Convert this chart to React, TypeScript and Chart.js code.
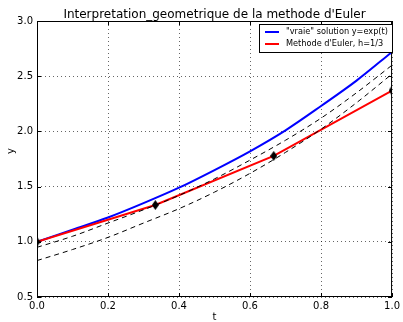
import React, { useEffect, useRef } from "react";
import { Chart, registerables } from "chart.js";

Chart.register(...registerables);

const titleText = "Interpretation_geometrique de la methode d'Euler";
const xLabel = "t";
const yLabel = "y";
const exactLabel = '"vraie" solution y=exp(t)';
const eulerLabel = "Methode d'Euler, h=1/3";

const tValues = [0, 0.1, 0.2, 0.3, 0.4, 0.5, 0.6, 0.7, 0.8, 0.9, 1.0];
const exactY = [1.0, 1.11, 1.22, 1.35, 1.49, 1.65, 1.82, 2.01, 2.23, 2.46, 2.72];
const dashedA = [0.95, 1.05, 1.17, 1.29, 1.42, 1.57, 1.74, 1.92, 2.12, 2.35, 2.6];
const dashedB = [0.83, 0.93, 1.04, 1.17, 1.3, 1.45, 1.62, 1.81, 2.02, 2.26, 2.52];
const eulerT = [0, 0.3333, 0.6667, 1.0];
const eulerY = [1.0, 1.3333, 1.7778, 2.3704];
const xTicks = [0, 0.2, 0.4, 0.6, 0.8, 1.0];
const yTicks = [0.5, 1.0, 1.5, 2.0, 2.5, 3.0];

const FONT = "'DejaVu Sans', sans-serif";

const pairs = (xs: number[], ys: number[]) => xs.map((x, i) => ({ x, y: ys[i] }));

function makeThinDiamond(): HTMLCanvasElement {
  const c = document.createElement("canvas");
  c.width = 7;
  c.height = 10;
  const g = c.getContext("2d")!;
  g.fillStyle = "#000";
  g.beginPath();
  g.moveTo(3.5, 0);
  g.lineTo(7, 5);
  g.lineTo(3.5, 10);
  g.lineTo(0, 5);
  g.closePath();
  g.fill();
  return c;
}

const decorPlugin = {
  id: "decor",
  afterDraw(chart: any) {
    const { ctx, chartArea: a, scales } = chart;
    const xs = scales.x;
    const ys = scales.y;
    ctx.save();
    ctx.strokeStyle = "#000";
    ctx.lineWidth = 1;
    ctx.setLineDash([]);
    ctx.strokeRect(a.left + 0.5, a.top + 0.5, a.right - a.left - 1, a.bottom - a.top - 1);
    const tl = 4;
    ctx.beginPath();
    xTicks.forEach((v) => {
      const px = Math.round(xs.getPixelForValue(v)) + 0.5;
      ctx.moveTo(px, a.bottom);
      ctx.lineTo(px, a.bottom - tl);
      ctx.moveTo(px, a.top);
      ctx.lineTo(px, a.top + tl);
    });
    yTicks.forEach((v) => {
      const py = Math.round(ys.getPixelForValue(v)) + 0.5;
      ctx.moveTo(a.left, py);
      ctx.lineTo(a.left + tl, py);
      ctx.moveTo(a.right, py);
      ctx.lineTo(a.right - tl, py);
    });
    ctx.stroke();

    ctx.fillStyle = "#000";
    ctx.font = `12px ${FONT}`;
    ctx.textAlign = "center";
    ctx.textBaseline = "alphabetic";
    ctx.fillText(titleText, (a.left + a.right) / 2, 18);
    ctx.font = `10px ${FONT}`;
    ctx.fillText(xLabel, (a.left + a.right) / 2, 320);
    ctx.save();
    ctx.translate(14, (a.top + a.bottom) / 2 - 8);
    ctx.rotate(-Math.PI / 2);
    ctx.fillText(yLabel, 0, 0);
    ctx.restore();

    const lx = 259, ly = 24, lw = 133, lh = 28;
    ctx.fillStyle = "#fff";
    ctx.fillRect(lx, ly, lw, lh);
    ctx.strokeStyle = "#000";
    ctx.lineWidth = 1;
    ctx.strokeRect(lx + 0.5, ly + 0.5, lw, lh);
    const entries = [
      { c: "#0000ff", t: exactLabel, y: ly + 8 },
      { c: "#ff0000", t: eulerLabel, y: ly + 20 },
    ];
    ctx.font = `8.2px ${FONT}`;
    ctx.textAlign = "left";
    ctx.textBaseline = "middle";
    entries.forEach((e) => {
      ctx.strokeStyle = e.c;
      ctx.lineWidth = 2;
      ctx.beginPath();
      ctx.moveTo(lx + 6, e.y);
      ctx.lineTo(lx + 20, e.y);
      ctx.stroke();
      ctx.fillStyle = "#000";
      ctx.fillText(e.t, lx + 27, e.y);
    });
    ctx.restore();
  },
};

export default function App() {
  const ref = useRef<HTMLCanvasElement>(null);
  useEffect(() => {
    if (!ref.current) return;
    const diamond = makeThinDiamond();
    const chart = new Chart(ref.current, {
      type: "line",
      data: {
        datasets: [
          {
            label: "markers",
            data: pairs(eulerT, eulerY),
            showLine: false,
            pointStyle: diamond as any,
            pointRadius: 4,
            order: 0,
          },
          {
            label: "dashA",
            data: pairs(tValues, dashedA),
            borderColor: "#000",
            borderWidth: 1,
            borderDash: [5, 4],
            pointRadius: 0,
            cubicInterpolationMode: "monotone",
            order: 1,
          },
          {
            label: "dashB",
            data: pairs(tValues, dashedB),
            borderColor: "#000",
            borderWidth: 1,
            borderDash: [5, 4],
            pointRadius: 0,
            cubicInterpolationMode: "monotone",
            order: 2,
          },
          {
            label: eulerLabel,
            data: pairs(eulerT, eulerY),
            borderColor: "#ff0000",
            borderWidth: 2,
            pointRadius: 0,
            tension: 0,
            order: 3,
          },
          {
            label: exactLabel,
            data: pairs(tValues, exactY),
            borderColor: "#0000ff",
            borderWidth: 2,
            pointRadius: 0,
            cubicInterpolationMode: "monotone",
            order: 4,
          },
        ],
      },
      options: {
        animation: false,
        responsive: false,
        maintainAspectRatio: false,
        layout: { padding: { top: 21, right: 8, left: 0, bottom: 0 } },
        plugins: { legend: { display: false }, tooltip: { enabled: false }, title: { display: false } },
        scales: {
          x: {
            type: "linear",
            min: 0,
            max: 1,
            afterBuildTicks: (s: any) => {
              s.ticks = xTicks.map((v) => ({ value: v }));
            },
            afterFit: (s: any) => {
              s.height = 25;
            },
            ticks: {
              callback: (v: any) => Number(v).toFixed(1),
              font: { size: 10, family: FONT },
              color: "#000",
              padding: 3,
              maxRotation: 0,
            },
            grid: { drawTicks: false, color: "rgba(0,0,0,0.6)", lineWidth: 1 },
            border: { display: false, dash: [1, 3] },
          },
          y: {
            type: "linear",
            min: 0.5,
            max: 3.0,
            afterBuildTicks: (s: any) => {
              s.ticks = yTicks.map((v) => ({ value: v }));
            },
            afterFit: (s: any) => {
              s.width = 37;
            },
            ticks: {
              callback: (v: any) => Number(v).toFixed(1),
              font: { size: 10, family: FONT },
              color: "#000",
              padding: 4,
            },
            grid: { drawTicks: false, color: "rgba(0,0,0,0.6)", lineWidth: 1 },
            border: { display: false, dash: [1, 3] },
          },
        },
      },
      plugins: [decorPlugin],
    });
    return () => chart.destroy();
  }, []);
  return (
    <div style={{ position: "absolute", left: 0, top: 0, width: 403, height: 322, background: "#fff" }}>
      <canvas ref={ref} width={403} height={322} style={{ width: 403, height: 322, display: "block" }} />
    </div>
  );
}
